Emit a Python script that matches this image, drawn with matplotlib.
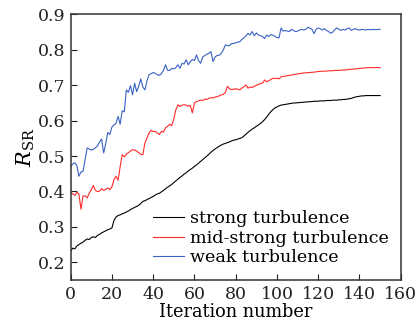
import matplotlib
matplotlib.use("Agg")
import matplotlib.pyplot as plt
import numpy as np

iterations = list(range(0, 151))

strong = [
    0.232, 0.240, 0.238, 0.246, 0.250, 0.254, 0.257, 0.262, 0.266, 0.264,
    0.270, 0.272, 0.270, 0.276, 0.279, 0.283, 0.286, 0.289, 0.292, 0.294,
    0.297, 0.318, 0.328, 0.332, 0.334, 0.337, 0.339, 0.342, 0.345, 0.349,
    0.352, 0.355, 0.358, 0.361, 0.366, 0.372, 0.374, 0.377, 0.380, 0.383,
    0.386, 0.390, 0.393, 0.395, 0.399, 0.403, 0.408, 0.412, 0.416, 0.420,
    0.425, 0.430, 0.435, 0.440, 0.444, 0.449, 0.453, 0.458, 0.462, 0.466,
    0.471, 0.475, 0.480, 0.485, 0.490, 0.495, 0.500, 0.505, 0.511, 0.516,
    0.520, 0.524, 0.528, 0.531, 0.534, 0.536, 0.538, 0.540, 0.543, 0.545,
    0.546, 0.548, 0.550, 0.552, 0.557, 0.562, 0.567, 0.572, 0.576, 0.580,
    0.584, 0.588, 0.592, 0.597, 0.603, 0.610, 0.618, 0.625, 0.631, 0.636,
    0.639, 0.642, 0.644, 0.645, 0.646, 0.647, 0.648, 0.649, 0.650, 0.650,
    0.651, 0.651, 0.652, 0.652, 0.653, 0.653, 0.654, 0.654, 0.655, 0.655,
    0.655, 0.656, 0.656, 0.656, 0.657, 0.657, 0.657, 0.658, 0.658, 0.658,
    0.659, 0.659, 0.660, 0.660, 0.661, 0.662, 0.663, 0.665, 0.667, 0.668,
    0.669, 0.670, 0.670, 0.671, 0.671, 0.671, 0.671, 0.671, 0.671, 0.671,
    0.671,
]

mid_strong = [
    0.400, 0.393, 0.389, 0.398, 0.393, 0.350, 0.387, 0.388, 0.382, 0.395,
    0.405, 0.417, 0.403, 0.400, 0.401, 0.408, 0.403, 0.406, 0.410, 0.405,
    0.413, 0.434, 0.443, 0.432, 0.470, 0.504, 0.498, 0.505, 0.510, 0.514,
    0.518, 0.517, 0.514, 0.510, 0.505, 0.504, 0.537, 0.551, 0.565, 0.573,
    0.569, 0.570, 0.565, 0.561, 0.570, 0.568, 0.580, 0.584, 0.590, 0.586,
    0.605, 0.631, 0.645, 0.640, 0.644, 0.645, 0.644, 0.641, 0.643, 0.622,
    0.650, 0.654, 0.656, 0.658, 0.657, 0.661, 0.660, 0.663, 0.665, 0.664,
    0.667, 0.668, 0.670, 0.673, 0.674, 0.680, 0.697, 0.690, 0.688, 0.689,
    0.690, 0.689, 0.687, 0.692, 0.696, 0.701, 0.692, 0.695, 0.694, 0.697,
    0.700, 0.703, 0.705, 0.706, 0.715, 0.710, 0.713, 0.716, 0.720, 0.719,
    0.720, 0.718, 0.724, 0.725, 0.726, 0.727, 0.728, 0.729, 0.730, 0.731,
    0.732, 0.733, 0.734, 0.735, 0.735, 0.736, 0.736, 0.737, 0.737, 0.738,
    0.739, 0.739, 0.740, 0.740, 0.740, 0.741, 0.741, 0.741, 0.742, 0.742,
    0.742, 0.743, 0.743, 0.743, 0.744, 0.745, 0.745, 0.746, 0.746, 0.747,
    0.748, 0.748, 0.749, 0.749, 0.750, 0.750, 0.750, 0.750, 0.750, 0.750,
    0.750,
]

weak = [
    0.470, 0.478, 0.481, 0.474, 0.443, 0.455, 0.457, 0.490, 0.523, 0.520,
    0.517, 0.519, 0.524, 0.528, 0.540, 0.548, 0.509, 0.535, 0.567, 0.561,
    0.582, 0.588, 0.593, 0.612, 0.590, 0.628, 0.625, 0.687, 0.680, 0.699,
    0.673, 0.706, 0.682, 0.698, 0.718, 0.695, 0.687, 0.712, 0.730, 0.733,
    0.736, 0.734, 0.730, 0.728, 0.733, 0.742, 0.758, 0.742, 0.742, 0.748,
    0.746, 0.750, 0.758, 0.748, 0.762, 0.760, 0.772, 0.758, 0.767, 0.773,
    0.770, 0.786, 0.770, 0.762, 0.780, 0.784, 0.788, 0.790, 0.795, 0.767,
    0.780, 0.784, 0.785, 0.790, 0.800, 0.814, 0.812, 0.812, 0.818, 0.818,
    0.820, 0.822, 0.823, 0.830, 0.834, 0.840, 0.847, 0.842, 0.852, 0.840,
    0.848, 0.842, 0.840, 0.838, 0.832, 0.842, 0.838, 0.843, 0.842, 0.838,
    0.835, 0.834, 0.862, 0.853, 0.855, 0.853, 0.852, 0.858, 0.855, 0.852,
    0.853, 0.856, 0.858, 0.856, 0.858, 0.864, 0.861, 0.858, 0.846, 0.858,
    0.862, 0.860, 0.856, 0.860, 0.855, 0.852, 0.847, 0.850, 0.857, 0.862,
    0.858, 0.855, 0.858, 0.856, 0.860, 0.862, 0.855, 0.858, 0.860, 0.857,
    0.856, 0.858, 0.857, 0.856, 0.858, 0.857, 0.857, 0.858, 0.857, 0.858,
    0.858,
]

series_labels = ["strong turbulence", "mid-strong turbulence", "weak turbulence"]
series_colors = ["#000000", "#ff2a2a", "#3a62c4"]
x_ticks = [0, 20, 40, 60, 80, 100, 120, 140, 160]
y_ticks = [0.2, 0.3, 0.4, 0.5, 0.6, 0.7, 0.8, 0.9]

plt.rcParams['font.family'] = ['DejaVu Serif']
plt.rcParams['mathtext.fontset'] = 'dejavuserif'

fig = plt.figure(figsize=(4.18, 3.30), dpi=100)
ax = fig.add_axes([0.169, 0.1515, 0.7897, 0.8046])

for vals, lab, col in zip([strong, mid_strong, weak], series_labels, series_colors):
    ax.plot(iterations, vals, color=col, lw=0.8, label=lab)

ax.set_xlim(0, 160)
ax.set_ylim(0.15, 0.9)
ax.set_xticks(x_ticks)
ax.set_yticks(y_ticks)
ax.set_xticklabels([str(t) for t in x_ticks])
ax.set_yticklabels([f"{t:.1f}" for t in y_ticks])
ax.tick_params(direction='in', length=4, width=0.8, labelsize=12.5, colors='#222222')
ax.tick_params(axis='x', pad=4)
for sp in ax.spines.values():
    sp.set_linewidth(1.1)
    sp.set_color('#333333')

ax.set_xlabel("Iteration number", fontsize=12.8, labelpad=0)
ax.set_ylabel(r"$R_{\mathrm{SR}}$", fontsize=15, labelpad=1)

ax.legend(loc='center left', bbox_to_anchor=(0.249, 0.157), frameon=False,
          fontsize=12.6, handlelength=1.8, handletextpad=0.35, labelspacing=0.15,
          borderpad=0, borderaxespad=0)

fig.savefig("out.png", dpi=100)
